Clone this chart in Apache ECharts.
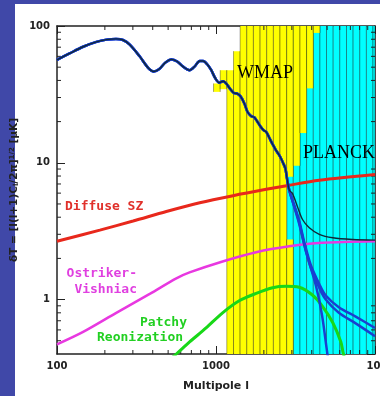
<!DOCTYPE html>
<html>
<head>
<meta charset="utf-8">
<script src="https://cdn.jsdelivr.net/npm/echarts@6/dist/echarts.min.js"></script>
<style>
html, body { margin: 0; padding: 0; background: #4048a8; }
#main { width: 380px; height: 396px; }
</style>
</head>
<body>
<div id="main"></div>
<script>
// axis ranges
var xMin = 100, xMax = 10000, yMin = 0.4, yMax = 100;

// primary CMB spectrum (shared part of all the curves)
var cmbL = [100, 120, 146, 177, 205, 235, 260, 287, 331, 374, 406, 440, 480, 524, 570, 620, 682, 733, 790, 830, 880, 934, 990, 1050, 1110, 1160, 1220, 1290, 1360, 1430, 1510, 1580, 1660, 1740, 1810, 1900, 1990, 2070, 2160, 2260, 2370, 2470, 2560, 2650, 2730, 2800, 2890];
var cmbT = [56.5, 63, 70.5, 76.5, 79.5, 80.5, 79, 73, 60, 49.5, 46.5, 48.5, 54, 57, 55, 50.5, 47.5, 50.5, 55.5, 55.5, 52.5, 47.5, 41.5, 38.5, 39.5, 38, 35, 32.5, 32, 30.5, 27, 23.5, 22, 21.5, 20.2, 18.5, 17.3, 16.8, 15.3, 13.8, 12.5, 11.6, 10.8, 9.9, 9.1, 7.6, 6.3];

// tails after the split
var totalL = [3020, 3250, 3500, 3860, 4460, 5420, 7200, 10000];
var totalT = [6.0, 4.8, 3.85, 3.35, 3.0, 2.83, 2.75, 2.72];
var blueAL = [3020, 3330, 3600, 3940, 4460, 4900, 5920, 7560, 10000];
var blueAT = [5.4, 3.8, 2.6, 1.8, 1.3, 1.07, 0.88, 0.75, 0.62];
var blueBL = [3020, 3330, 3600, 3940, 4460, 4900, 5920, 7560, 10000];
var blueBT = [5.3, 3.7, 2.5, 1.72, 1.22, 1.0, 0.8, 0.67, 0.54];
var blueCL = [3020, 3330, 3660, 4260, 4650, 5020, 5100];
var blueCT = [5.3, 3.6, 2.3, 1.25, 0.76, 0.4, 0.37];

// secondary anisotropies
var szL = [100, 186, 301, 487, 790, 1280, 2070, 2780, 4460, 10000];
var szT = [2.67, 3.22, 3.75, 4.4, 5.1, 5.75, 6.4, 6.8, 7.45, 8.2];
var ovL = [100, 146, 236, 383, 563, 682, 1100, 1790, 2890, 4650, 10000];
var ovT = [0.47, 0.58, 0.8, 1.1, 1.43, 1.58, 1.9, 2.22, 2.45, 2.6, 2.67];
var patchyL = [520, 563, 682, 866, 1100, 1400, 1790, 2270, 2760, 3330, 4040, 4650, 5420, 6100, 6300, 6450];
var patchyT = [0.37, 0.4, 0.49, 0.62, 0.8, 0.98, 1.11, 1.22, 1.25, 1.23, 1.08, 0.9, 0.68, 0.49, 0.41, 0.37];

// experiment bins: [l0, l1, low, high]
var wmapBins = [
    [965, 1063, 33, 38], [1063, 1169, 34.5, 47.5], [1169, 1289, 0.4, 47.5], [1289, 1418, 0.4, 65.5],
    [1418, 1562, 0.4, 100], [1562, 1719, 0.4, 100], [1719, 1894, 0.4, 100], [1894, 2084, 0.4, 100],
    [2084, 2296, 0.4, 100], [2296, 2526, 0.4, 100], [2526, 2784, 0.4, 100],
    [2784, 3063, 0.4, 2.75], [2784, 3063, 7.9, 100], [3063, 3375, 9.5, 100],
    [3375, 3714, 16.5, 100], [3714, 4092, 35, 100], [4092, 4504, 89, 100]
];
var planckEdges = [2784, 3063, 3375, 3714, 4092, 4504, 4955, 5459, 6005, 6619, 7285, 8025, 8830, 9714, 10000];

var xMinorTicks = [200, 300, 400, 500, 600, 700, 800, 900, 2000, 3000, 4000, 5000, 6000, 7000, 8000, 9000];
var yMinorTicks = [0.5, 0.6, 0.7, 0.8, 0.9, 2, 3, 4, 5, 6, 7, 8, 9, 20, 30, 40, 50, 60, 70, 80, 90];

function pairs(xs, ys) {
    return xs.map(function (x, i) { return [x, ys[i]]; });
}

var planckBins = [];
for (var i = 0; i < planckEdges.length - 1; i++) {
    planckBins.push([planckEdges[i], planckEdges[i + 1], yMin, yMax]);
}

function binRenderer(fill) {
    return function (params, api) {
        var p0 = api.coord([api.value(0), api.value(3)]);
        var p1 = api.coord([api.value(1), api.value(2)]);
        var line = { stroke: 'rgba(0,0,0,0.35)', lineWidth: 1 };
        return {
            type: 'group',
            children: [
                { type: 'rect', shape: { x: p0[0], y: p0[1], width: p1[0] - p0[0], height: p1[1] - p0[1] }, style: { fill: fill } },
                { type: 'line', shape: { x1: p0[0], y1: p0[1], x2: p0[0], y2: p1[1] }, style: line },
                { type: 'line', shape: { x1: p1[0], y1: p0[1], x2: p1[0], y2: p1[1] }, style: line }
            ]
        };
    };
}

function lineSeries(data, color, width, z) {
    return {
        type: 'line',
        data: data,
        showSymbol: false,
        smooth: 0.3,
        z: z,
        lineStyle: { color: color, width: width },
        silent: true
    };
}

var axisFont = { fontFamily: 'DejaVu Sans', fontWeight: 'bold', fontSize: 10, color: '#222' };
function tickLabel(v) {
    if (v >= xMax) return '{m|' + Math.round(v) + '}';
    return v >= 1 ? String(Math.round(v)) : String(v);
}

var chart = echarts.init(document.getElementById('main'));
chart.setOption({
    animation: false,
    backgroundColor: '#4048a8',
    grid: { left: 57, right: 5, top: 26, bottom: 42, containLabel: false, outerBoundsMode: 'none' },
    xAxis: [{
        type: 'log', min: xMin, max: xMax, logBase: 10,
        name: 'Multipole l', nameLocation: 'middle', nameGap: 27, nameMoveOverlap: false,
        nameTextStyle: { fontFamily: 'DejaVu Sans', fontWeight: 'bold', fontSize: 11, color: '#222' },
        axisLine: { lineStyle: { color: '#222', width: 1.5 } },
        axisTick: { inside: true, length: 8, lineStyle: { color: '#222' } },
        axisLabel: Object.assign({
            margin: 7, formatter: tickLabel, hideOverlap: false,
            rich: { m: { fontFamily: 'DejaVu Sans', fontWeight: 'bold', fontSize: 10, color: '#222', padding: [0, 0, 0, 18] } }
        }, axisFont),
        splitLine: { show: false }
    }, {
        type: 'log', min: xMin, max: xMax, logBase: 10, position: 'top',
        axisLine: { lineStyle: { color: '#222', width: 1.5 } },
        axisTick: { inside: true, length: 8, lineStyle: { color: '#222' } },
        axisLabel: { show: false },
        splitLine: { show: false }
    }],
    yAxis: [{
        type: 'log', min: yMin, max: yMax, logBase: 10,
        name: '{a|δT = [l(l+1)C}{s|l}{a|/2π]}{p|1/2}{a| [μK]}',
        nameLocation: 'middle', nameGap: 37, nameRotate: 90, nameMoveOverlap: false,
        nameTextStyle: {
            rich: {
                a: { fontFamily: 'DejaVu Sans', fontWeight: 'bold', fontSize: 10.5, color: '#222' },
                s: { fontFamily: 'DejaVu Sans', fontWeight: 'bold', fontSize: 7, color: '#222', verticalAlign: 'bottom' },
                p: { fontFamily: 'DejaVu Sans', fontWeight: 'bold', fontSize: 7, color: '#222', verticalAlign: 'top' }
            }
        },
        axisLine: { lineStyle: { color: '#222', width: 1.5 } },
        axisTick: { inside: true, length: 8, lineStyle: { color: '#222' } },
        axisLabel: Object.assign({ margin: 7, formatter: tickLabel, showMinLabel: false, hideOverlap: false }, axisFont),
        splitLine: { show: false }
    }, {
        type: 'log', min: yMin, max: yMax, logBase: 10, position: 'right',
        axisLine: { lineStyle: { color: '#222', width: 1.5 } },
        axisTick: { inside: true, length: 8, lineStyle: { color: '#222' } },
        axisLabel: { show: false },
        splitLine: { show: false }
    }],
    graphic: { elements: [
        { type: 'rect', z: -100, shape: { x: 15, y: 4, width: 365, height: 392 }, style: { fill: '#ffffff' } },
        { type: 'text', z: 100, x: 237, y: 73, style: { text: 'WMAP', fill: '#000', fontFamily: 'Liberation Serif', fontSize: 18, verticalAlign: 'middle' } },
        { type: 'text', z: 100, x: 303, y: 153, style: { text: 'PLANCK', fill: '#000', fontFamily: 'Liberation Serif', fontSize: 18, verticalAlign: 'middle' } },
        { type: 'text', z: 100, x: 65, y: 207, style: { text: 'Diffuse SZ', fill: '#e0302a', fontFamily: 'DejaVu Sans Mono', fontWeight: 'bold', fontSize: 13, verticalAlign: 'middle' } },
        { type: 'text', z: 100, x: 137, y: 274, style: { text: 'Ostriker-', fill: '#e040e0', fontFamily: 'DejaVu Sans Mono', fontWeight: 'bold', fontSize: 13, align: 'right', verticalAlign: 'middle' } },
        { type: 'text', z: 100, x: 137, y: 290, style: { text: 'Vishniac', fill: '#e040e0', fontFamily: 'DejaVu Sans Mono', fontWeight: 'bold', fontSize: 13, align: 'right', verticalAlign: 'middle' } },
        { type: 'text', z: 100, x: 140, y: 323, style: { text: 'Patchy', fill: '#22d022', fontFamily: 'DejaVu Sans Mono', fontWeight: 'bold', fontSize: 13, verticalAlign: 'middle' } },
        { type: 'text', z: 100, x: 97, y: 338, style: { text: 'Reonization', fill: '#22d022', fontFamily: 'DejaVu Sans Mono', fontWeight: 'bold', fontSize: 13, verticalAlign: 'middle' } }
    ] },
    series: [
        { type: 'custom', z: 1, silent: true, data: planckBins, encode: { x: [0, 1], y: [2, 3] }, renderItem: binRenderer('#00ffff') },
        { type: 'custom', z: 1, silent: true, data: wmapBins, encode: { x: [0, 1], y: [2, 3] }, renderItem: binRenderer('#ffff00') },
        {
            type: 'custom', z: 3, silent: true,
            data: xMinorTicks.map(function (v) { return [v, 1]; }),
            encode: { x: 0, y: 1 },
            renderItem: function (params, api) {
                var b = api.coord([api.value(0), yMin]);
                var t = api.coord([api.value(0), yMax]);
                var st = { stroke: '#222', lineWidth: 1 };
                return { type: 'group', children: [
                    { type: 'line', shape: { x1: b[0], y1: b[1], x2: b[0], y2: b[1] - 4 }, style: st },
                    { type: 'line', shape: { x1: t[0], y1: t[1], x2: t[0], y2: t[1] + 4 }, style: st }
                ] };
            }
        },
        {
            type: 'custom', z: 3, silent: true,
            data: yMinorTicks.map(function (v) { return [1000, v]; }),
            encode: { x: 0, y: 1 },
            renderItem: function (params, api) {
                var l = api.coord([xMin, api.value(1)]);
                var r = api.coord([xMax, api.value(1)]);
                var st = { stroke: '#222', lineWidth: 1 };
                return { type: 'group', children: [
                    { type: 'line', shape: { x1: l[0], y1: l[1], x2: l[0] + 4, y2: l[1] }, style: st },
                    { type: 'line', shape: { x1: r[0], y1: r[1], x2: r[0] - 4, y2: r[1] }, style: st }
                ] };
            }
        },
        lineSeries(pairs(szL, szT), '#e8281c', 3, 4),
        lineSeries(pairs(ovL, ovT), '#e838e0', 2.5, 4),
        lineSeries(pairs(patchyL, patchyT), '#18d818', 3, 4),
        lineSeries(pairs(cmbL.concat(blueAL), cmbT.concat(blueAT)), '#1a40d0', 2.5, 5),
        lineSeries(pairs(cmbL.concat(blueBL), cmbT.concat(blueBT)), '#1a40d0', 2.5, 5),
        lineSeries(pairs(cmbL.concat(blueCL), cmbT.concat(blueCT)), '#1a40d0', 2.5, 5),
        lineSeries(pairs(cmbL.concat(totalL), cmbT.concat(totalT)), '#102838', 1.4, 6)
    ]
});
</script>
</body>
</html>
